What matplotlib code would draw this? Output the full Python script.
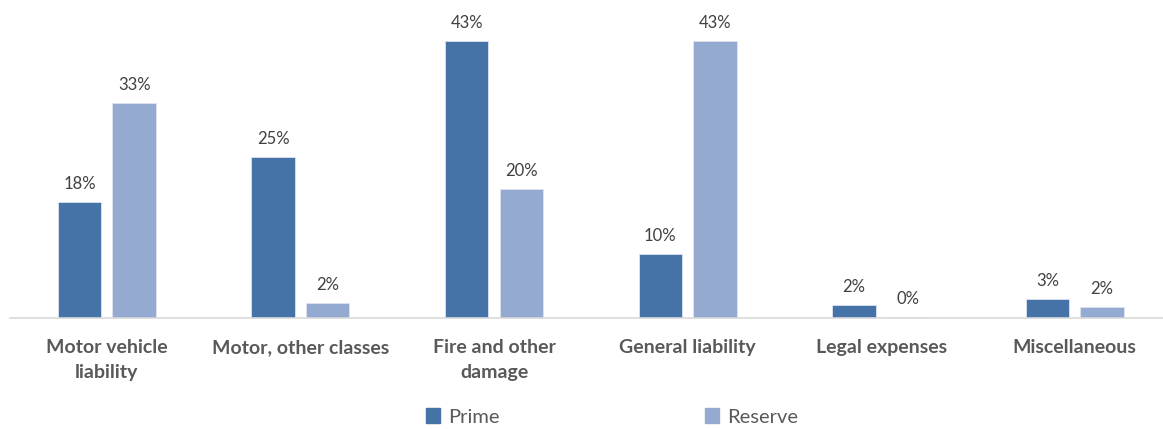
import numpy as np
import matplotlib
matplotlib.use("Agg")
import matplotlib.pyplot as plt
from matplotlib.patches import Patch

plt.rcParams["font.family"] = ["Lato", "DejaVu Sans"]

# data
categories = ["Motor vehicle\nliability", "Motor, other classes", "Fire and other\ndamage",
              "General liability", "Legal expenses", "Miscellaneous"]
prime = [18, 25, 43, 10, 2, 3]
reserve = [33.4, 2.4, 20, 43, 0.2, 1.7]
series_names = ["Prime", "Reserve"]

prime_color = "#4573a7"
reserve_color = "#95aad1"
text_color = "#595959"

fig = plt.figure(figsize=(11.63, 4.29), dpi=100)
W, H = 1163, 429
ax = fig.add_axes([10 / W, 111 / H, 1153 / W, 298 / H])

x = np.arange(len(categories))
bw = 0.225
gap = 0.057
b1 = ax.bar(x - (bw + gap) / 2, prime, bw, color=prime_color, edgecolor="#dde4f0", linewidth=0.6)
b2 = ax.bar(x + (bw + gap) / 2, reserve, bw, color=reserve_color, edgecolor="#dde4f0", linewidth=0.6)

for bars, vals in [(b1, prime), (b2, reserve)]:
    for rect, v in zip(bars, vals):
        ax.annotate(f"{v:.0f}%", (rect.get_x() + rect.get_width() / 2, rect.get_height()),
                    xytext=(0, 7), textcoords="offset points", ha="center", va="bottom",
                    fontsize=12, color="#404040")

ax.set_xlim(-0.5, -0.5 + 1153 / 193.6)
ax.set_ylim(0, 298 / 6.44)
ax.set_xticks(x)
ax.set_xticklabels(categories, fontsize=14, fontweight="bold", color=text_color, linespacing=1.6)
ax.tick_params(axis="x", length=0, pad=15)
ax.set_yticks([])
for s in ["top", "right", "left"]:
    ax.spines[s].set_visible(False)
ax.spines["bottom"].set_color("#d9d9d9")
ax.spines["bottom"].set_linewidth(1.2)

handles = [Patch(color=prime_color), Patch(color=reserve_color)]
fig.legend(handles, series_names, loc="center", bbox_to_anchor=(612 / W, 12 / H), ncol=2,
           frameon=False, fontsize=14.5, handlelength=0.7, handleheight=0.7, handletextpad=0.4,
           columnspacing=10.2, labelcolor=text_color)

fig.savefig("out.png", dpi=100)
